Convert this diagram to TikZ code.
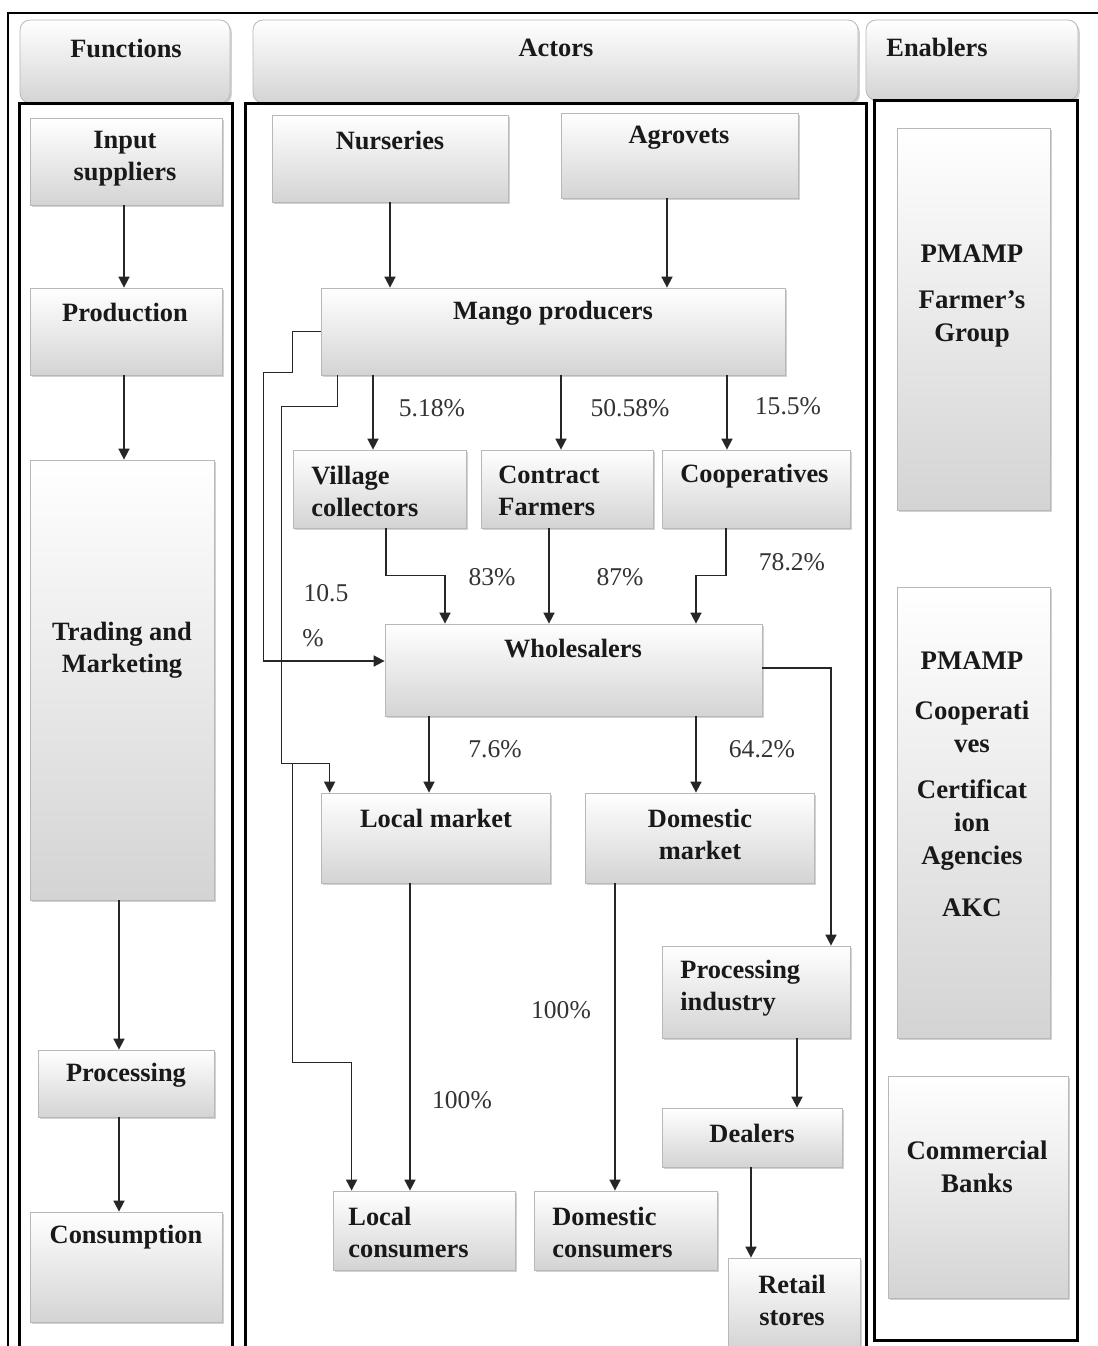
\documentclass[tikz,border=0pt]{standalone}
\usepackage{fontspec}
\setmainfont{Liberation Serif}
\usetikzlibrary{arrows.meta,fit,shadows,calc}
\begin{document}
\begin{tikzpicture}[x=0.5pt,y=-0.5pt,
  boxst/.style={draw=black!28, line width=0.4pt, top color=white, bottom color=black!17, inner sep=0pt,
    drop shadow={shadow xshift=0.9pt, shadow yshift=-1.1pt, opacity=0.35}},
  headst/.style={boxst, rounded corners=5pt},
  frame/.style={draw=black, line width=1.5pt},
  lbl/.style={font=\fontsize{13.2}{16}\selectfont\bfseries, text=black!90, align=center, inner sep=0pt},
  lbll/.style={lbl, align=left, anchor=west},
  elbl/.style={font=\fontsize{13.4}{16.5}\selectfont\bfseries, text=black!90, align=center, inner sep=0pt},
  pct/.style={font=\fontsize{12.8}{14}\selectfont, text=black!80, inner sep=0pt},
  arr/.style={draw=black!85, line width=0.85pt, -{Triangle[length=5.5pt,width=5.5pt]}},
]
\useasboundingbox (0,0) rectangle (1098,1346);
\clip (0,0) rectangle (1098,1346);
\fill[white] (0,0) rectangle (1098,1346);

% outer frame
\draw[line width=0.8pt] (8,1360) -- (8,13) -- (1110,13);

% headers
\node[headst, fit={(20,20)(230,103)}] (hfun) {};
\node[headst, fit={(253,20)(858,103)}] (hact) {};
\node[headst, fit={(866,20)(1078,100)}] (hena) {};
\node[lbl] (hfun-t) at (126,48) {Functions};
\node[lbl] (hact-t) at (556,48) {Actors};
\node[lbl] (hena-t) at (937,47) {Enablers};

% frames
\draw[frame] (19,1370) -- (19,103) -- (232,103) -- (232,1370);
\draw[frame] (245,1370) -- (245,103) -- (866,103) -- (866,1370);
\draw[frame] (874,100) rectangle (1077,1340);

% function boxes
\node[boxst, fit={(30,118)(222,205)}] (inp) {};
\node[boxst, fit={(30,288)(222,375)}] (prod) {};
\node[boxst, fit={(30,460)(214,900)}] (trad) {};
\node[boxst, fit={(38,1050)(214,1117)}] (procf) {};
\node[boxst, fit={(30,1212)(222,1322)}] (cons) {};
\node[lbl] (inp-t) at (125,159) {Input\\suppliers};
\node[lbl] (prod-t) at (125,312) {Production};
\node[lbl] (trad-t) at (122,650) {Trading and\\Marketing};
\node[lbl] (procf-t) at (126,1075) {Processing};
\node[lbl] (cons-t) at (126,1237) {Consumption};

\draw[arr] ([xshift=-1pt]inp.south) -- ([xshift=-1pt]inp.south |- prod.north);
\draw[arr] ([xshift=-1pt]prod.south) -- ([xshift=-1pt]prod.south |- trad.north);
\draw[arr] ([xshift=-1.5pt]trad.south) -- ([xshift=-1.5pt]trad.south |- procf.north);
\draw[arr] ([xshift=-3.5pt]procf.south) -- ([xshift=-3.5pt]procf.south |- cons.north);

% actor boxes
\node[boxst, fit={(272,115)(508,202)}] (nurs) {};
\node[boxst, fit={(561,113)(798,198)}] (agro) {};
\node[boxst, fit={(321,288)(785,375)}] (mango) {};
\node[boxst, fit={(293,450)(466,528)}] (vill) {};
\node[boxst, fit={(481,450)(653,528)}] (contr) {};
\node[boxst, fit={(662,450)(850,528)}] (coop) {};
\node[boxst, fit={(385,624)(762,716)}] (whole) {};
\node[boxst, fit={(321,793)(550,883)}] (locmk) {};
\node[boxst, fit={(585,793)(814,883)}] (dommk) {};
\node[boxst, fit={(662,946)(850,1038)}] (proc) {};
\node[boxst, fit={(662,1108)(842,1167)}] (deal) {};
\node[boxst, fit={(333,1191)(515,1270)}] (loccons) {};
\node[boxst, fit={(534,1191)(717,1270)}] (domcons) {};
\node[boxst, fit={(728,1258)(860,1350)}] (retail) {};

\node[lbl] (nurs-t) at (390,140) {Nurseries};
\node[lbl] (agro-t) at (679,138) {Agrovets};
\node[lbl] (mango-t) at (553,313) {Mango producers};
\node[lbll] (vill-t) at (311,491) {Village\\collectors};
\node[lbll] (contr-t) at (498,491) {Contract\\Farmers};
\node[lbll] (coop-t) at (680,476) {Cooperatives};
\node[lbl] (whole-t) at (573,649) {Wholesalers};
\node[lbl] (locmk-t) at (436,818) {Local market};
\node[lbl] (dommk-t) at (700,834) {Domestic\\market};
\node[lbll] (proc-t) at (680,988) {Processing\\industry};
\node[lbl] (deal-t) at (752,1133) {Dealers};
\node[lbll] (loccons-t) at (348,1232) {Local\\consumers};
\node[lbll] (domcons-t) at (552,1232) {Domestic\\consumers};
\node[lbl] (retail-t) at (792,1300) {Retail\\stores};

% enabler boxes
\node[boxst, fit={(897,128)(1050,510)}] (en1) {};
\node[boxst, fit={(897,587)(1050,1038)}] (en2) {};
\node[boxst, fit={(888,1076)(1068,1298)}] (en3) {};
\node[elbl] (en1-a) at (972,254) {PMAMP};
\node[elbl] (en1-b) at (972,319) {Farmer’s\\Group};
\node[elbl] (en2-a) at (972,661) {PMAMP};
\node[elbl] (en2-b) at (972,727) {Cooperati\\ves};
\node[elbl] (en2-c) at (972,825) {Certificat\\ion\\Agencies};
\node[elbl] (en2-d) at (972,908) {AKC};
\node[elbl] (en3-t) at (977,1167) {Commercial\\Banks};

% actor connectors
\draw[arr] (nurs.south) -- (nurs.south |- mango.north);
\draw[arr] ([xshift=-6.25pt]agro.south) -- ([xshift=-6.25pt]agro.south |- mango.north);
\draw[arr] ([xshift=-3.25pt]vill.north |- mango.south) -- ([xshift=-3.25pt]vill.north);
\draw[arr] ([xshift=-3pt]contr.north |- mango.south) -- ([xshift=-3pt]contr.north);
\draw[arr] ([xshift=-14.5pt]coop.north |- mango.south) -- ([xshift=-14.5pt]coop.north);

\draw[arr] ([xshift=3.25pt]vill.south) -- ++(0,47) -| ([xshift=-64.25pt]whole.north);
\draw[arr] ([xshift=-9pt]contr.south) -- ([xshift=-9pt]contr.south |- whole.north);
\draw[arr] ([xshift=-15pt]coop.south) -- ++(0,47) -| ([xshift=61.25pt]whole.north);

\draw[arr] (mango.west) -- ++(-28,0) -- ++(0,41) -- ++(-29,0) |- ([yshift=4.5pt]whole.west);
\draw[arr] ([xshift=8.5pt]mango.south west) -- ++(0,31) -- ++(-56,0) -- ++(0,357) -| ([xshift=4.5pt]locmk.north west);
\draw[arr] ([xshift=8.5pt]mango.south west) -- ++(0,31) -- ++(-56,0) -- ++(0,357) -- ++(11,0) -- ++(0,299) -| ([xshift=9.5pt]loccons.north west);

\draw[arr] ([xshift=-3.25pt]locmk.north |- whole.south) -- ([xshift=-3.25pt]locmk.north);
\draw[arr] ([xshift=-1.75pt]dommk.north |- whole.south) -- ([xshift=-1.75pt]dommk.north);
\draw[arr] ([yshift=1pt]whole.east) -| ([xshift=37.5pt]proc.north);

\draw[arr] ([xshift=-12.75pt]locmk.south) -- ([xshift=-12.75pt]locmk.south |- loccons.north);
\draw[arr] ([xshift=-42.25pt]dommk.south) -- ([xshift=-42.25pt]dommk.south |- domcons.north);
\draw[arr] ([xshift=20.5pt]proc.south) -- ([xshift=20.5pt]proc.south |- deal.north);
\draw[arr] ([xshift=-0.5pt]deal.south) -- ([xshift=-0.5pt]deal.south |- retail.north);

% percentages
\node[pct] (p1) at (432,408) {5.18\%};
\node[pct] (p2) at (630,408) {50.58\%};
\node[pct] (p3) at (788,406) {15.5\%};
\node[pct] (p4) at (492,577) {83\%};
\node[pct] (p5) at (620,577) {87\%};
\node[pct] (p6) at (792,562) {78.2\%};
\node[pct] (p7) at (326,593) {10.5};
\node[pct] (p8) at (313,638) {\%};
\node[pct] (p9) at (495,749) {7.6\%};
\node[pct] (p10) at (762,749) {64.2\%};
\node[pct] (p11) at (462,1100) {100\%};
\node[pct] (p12) at (561,1010) {100\%};
\end{tikzpicture}
\end{document}
